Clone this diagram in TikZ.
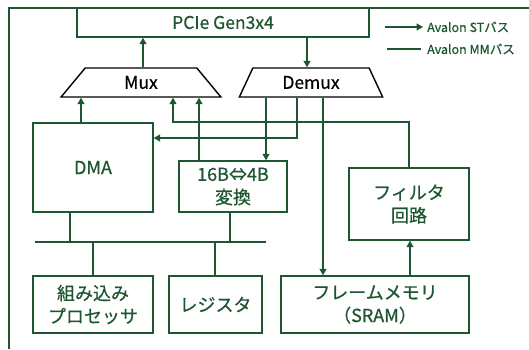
\documentclass[tikz,border=0pt]{standalone}
\usepackage{fontspec}
\setmainfont{Noto Sans CJK JP}[FakeBold=0.6]
\usetikzlibrary{shapes.geometric,arrows.meta}
\definecolor{dg}{HTML}{1E5631}
\begin{document}
\begin{tikzpicture}[x=1pt,y=-1pt,
  box/.style={draw=dg, line width=1.4pt, text=dg, align=center, inner sep=0pt,
    font=\fontsize{18}{23}\selectfont},
  trap/.style={trapezium, draw=black, line width=1.4pt, trapezium stretches=true,
    inner sep=0pt, text=black, font=\fontsize{17.5}{20}\selectfont},
  ln/.style={draw=dg, line width=1.3pt},
  arr/.style={ln, -{Triangle[length=6.5pt,width=7pt]}},
  lg/.style={text=dg, anchor=west, inner sep=0pt, font=\fontsize{12.5}{14}\selectfont}]
\useasboundingbox (0,0) rectangle (529,349);
% outer frame (cropped)
\draw[dg, line width=1.1pt] (9,349) -- (9,8) -- (529,8);
% nodes
\node[box, minimum width=292pt, minimum height=29pt, font=\fontsize{17.5}{20}\selectfont] (pcie) at (223,22.5) {PCIe Gen3x4};
\node[trap, minimum width=160pt, minimum height=29pt, trapezium left angle=61, trapezium right angle=61] (mux) at (141,82.5) {Mux};
\node[trap, minimum width=144pt, minimum height=29pt, trapezium left angle=63, trapezium right angle=63] (demux) at (311,82.5) {Demux};
\node[box, minimum width=120pt, minimum height=89pt] (dma) at (93,167.5) {DMA};
\node[box, minimum width=108pt, minimum height=51pt] (conv) at (233,186.5) {16B⇔4B\\変換};
\node[box, minimum width=120pt, minimum height=72pt] (filter) at (409,204) {フィルタ\\回路};
\node[box, minimum width=188pt, minimum height=57pt] (frame) at (375,304.5) {フレームメモリ\\（SRAM）};
\node[box, minimum width=120pt, minimum height=57pt] (proc) at (93,304.5) {組み込み\\プロセッサ};
\node[box, minimum width=93pt, minimum height=57pt] (reg) at (215.5,304.5) {レジスタ};
% ST connections
\draw[arr] (mux.north -| 143,0) -- (pcie.south -| 143,0);
\draw[arr] (pcie.south -| 307,0) -- (demux.north -| 307,0);
\draw[arr] (dma.north -| 81,0) -- (mux.south -| 81,0);
\draw[arr] (conv.north -| 199,0) -- (mux.south -| 199,0);
\draw[arr] (filter.north) -- (409,122) -- (173,122) -- (mux.south -| 173,0);
\draw[arr] (demux.south -| 266,0) -- (conv.north -| 266,0);
\draw[arr] (demux.south -| 297,0) -- (297,138) -- (dma.east |- 0,138);
\draw[arr] (demux.south -| 323,0) -- (frame.north -| 323,0);
\draw[arr] (frame.north -| 410,0) -- (filter.south -| 410,0);
% MM bus
\coordinate (busL) at (35,242);
\coordinate (busR) at (266,242);
\draw[ln] (busL) -- (busR);
\draw[ln] (dma.south -| 70,0) -- (busL -| 70,0);
\draw[ln] (conv.south -| 230,0) -- (busL -| 230,0);
\draw[ln] (busL -| 93,0) -- (proc.north -| 93,0);
\draw[ln] (busL -| 215,0) -- (reg.north -| 215,0);
% legend
\coordinate (l1a) at (385,27); \coordinate (l1b) at (423,27);
\coordinate (l2a) at (387,49); \coordinate (l2b) at (421,49);
\draw[arr] (l1a) -- (l1b);
\draw[ln] (l2a) -- (l2b);
\node[lg] (t1) at (427,27) {Avalon STバス};
\node[lg] (t2) at (427,49) {Avalon MMバス};
\end{tikzpicture}
\end{document}
